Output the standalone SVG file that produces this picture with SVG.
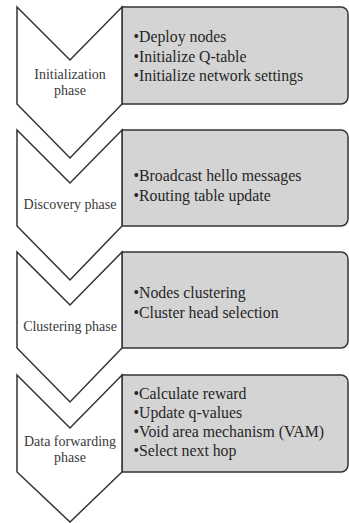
<svg xmlns="http://www.w3.org/2000/svg" width="349" height="523" viewBox="0 0 349 523">
<style>
.chev{fill:#ffffff;stroke:#333333;stroke-width:1.5;stroke-linejoin:miter}
.box{fill:#d4d4d4;stroke:#333333;stroke-width:1.5}
.lbl{font-family:"Liberation Serif","Times New Roman",serif;font-size:14px;fill:#3a3a3a;text-anchor:middle}
.itm{font-family:"Liberation Serif","Times New Roman",serif;font-size:15.8px;fill:#262626}
</style>
<rect x="0" y="0" width="349" height="523" fill="#ffffff"/>
<g id="connectors"></g>
<g id="phase1">
<path class="box" d="M122,7 H341 A7,7 0 0 1 348,14 V97 A7,7 0 0 1 341,104 H122 Z"/>
<path class="chev" d="M17,7 L70,60 L122,7 L122,104 L70,158 L17,104 Z"/>
<text class="lbl" x="70" y="78.5">Initialization</text>
<text class="lbl" x="70" y="94.5">phase</text>
<text class="itm" x="133.5" y="42">•Deploy nodes</text>
<text class="itm" x="133.5" y="62">•Initialize Q-table</text>
<text class="itm" x="133.5" y="81">•Initialize network settings</text>
</g>
<g id="phase2">
<path class="box" d="M122,130 H341 A7,7 0 0 1 348,137 V219 A7,7 0 0 1 341,226 H122 Z"/>
<path class="chev" d="M17,130 L70,183 L122,130 L122,226 L70,280 L17,226 Z"/>
<text class="lbl" x="70" y="209">Discovery phase</text>
<text class="itm" x="133.5" y="181">•Broadcast hello messages</text>
<text class="itm" x="133.5" y="201">•Routing table update</text>
</g>
<g id="phase3">
<path class="box" d="M122,252 H341 A7,7 0 0 1 348,259 V341 A7,7 0 0 1 341,348 H122 Z"/>
<path class="chev" d="M17,252 L70,305 L122,252 L122,348 L70,402 L17,348 Z"/>
<text class="lbl" x="70" y="331">Clustering phase</text>
<text class="itm" x="133.5" y="298">•Nodes clustering</text>
<text class="itm" x="133.5" y="318">•Cluster head selection</text>
</g>
<g id="phase4">
<path class="box" d="M122,375 H341 A7,7 0 0 1 348,382 V465 A7,7 0 0 1 341,472 H122 Z"/>
<path class="chev" d="M17,375 L70,428 L122,375 L122,472 L70,522 L17,472 Z"/>
<text class="lbl" x="70" y="445.5">Data forwarding</text>
<text class="lbl" x="70" y="461.5">phase</text>
<text class="itm" x="133.5" y="399">•Calculate reward</text>
<text class="itm" x="133.5" y="418">•Update q-values</text>
<text class="itm" x="133.5" y="437">•Void area mechanism (VAM)</text>
<text class="itm" x="133.5" y="456">•Select next hop</text>
</g>
</svg>
